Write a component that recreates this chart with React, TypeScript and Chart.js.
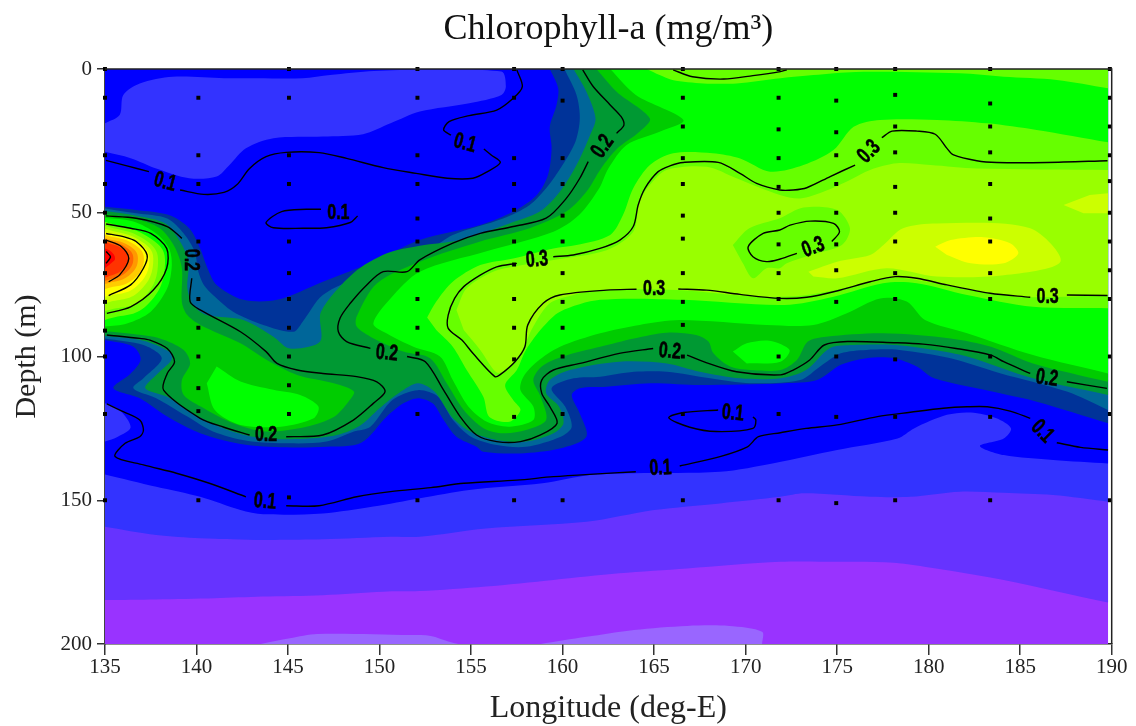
import React, { useEffect, useRef } from "react";
import { Chart } from "chart.js/auto";

type P = number[][];

const chartTitle = "Chlorophyll-a (mg/m\u00B3)";
const xTitle = "Longitude (deg-E)";
const yTitle = "Depth (m)";

// --- filled contour bands (longitude, depth) ---
const baseBand: P = [[135,0],[189.8,0],[189.8,200],[135,200]];
const paleA: P = [[143.5,200],[145.1,198],[146.6,196.5],[151.7,196.9],[152.8,197.2],[153.8,199.2],[154.3,200]];
const paleB: P = [[158.8,200],[161.3,197.5],[163.9,195.1],[166.8,193.7],[169.1,193.7],[170.9,195.7],[170.9,200]];
const violetEdge: P = [[135,184.7],[137.8,184.5],[141,184.1],[143.6,183.5],[146.9,183],[150.2,181.8],[152.2,181.6],[155.8,180],[159.5,177.7],[163.1,175.4],[166.8,173.7],[171.9,171.4],[175,171.4],[178.1,171.7],[180.4,173.7],[184.1,177.7],[189.8,185.6]];
const indigoEdge: P = [[135,159.2],[137.8,162.1],[140.2,163.2],[143.65,163.8],[146.9,163.6],[150.6,162.7],[152.2,162.7],[155.8,159.8],[161.3,157.5],[165,153.4],[168.6,151.1],[171.9,148.8],[173.2,147.6],[176.8,148.8],[179,148.8],[181.7,147],[184.1,147.4],[186.8,148.2],[189.8,150.5]];
const blueEdge: P = [[135,141],[137.8,145.3],[140.2,148.8],[142.4,153.4],[143.65,154.9],[146.9,154.6],[149.66,152.2],[152.2,149.3],[154.9,146.4],[158.9,144.1],[161.5,141.2],[163.9,140.6],[168.6,140.1],[171.6,137],[175,132.5],[178.3,128.5],[179.2,125],[181,120.3],[182.3,119.5],[183.7,121.5],[184.5,125],[184.1,128.5],[182.8,131.1],[184.1,134.3],[186.8,136],[189.8,137.2]];
const indigoTop: P = [[135,18.9],[135.8,16],[136,9],[136.9,5],[138.7,2.7],[141.5,3.2],[143.3,3.2],[145.8,3.2],[147.3,2.1],[149.7,0.7],[152.8,0.3],[156.66,0.9],[156.9,6.1],[156.66,9],[154.9,11.9],[152.2,14.8],[150.6,18.9],[149.1,22.7],[146.9,23.5],[144.2,24.1],[142.7,27.6],[141.8,33.4],[141.1,37.4],[139.6,38],[137.8,34.6],[136.4,31],[135,28.8]];
const indigoLeft: P = [[135,116.3],[135.8,118.6],[136.4,124.6],[135.7,127.9],[135,129.6]];

const navyHole: P = [[135,47.9],[136.7,49],[138.5,50.8],[139.6,55.4],[140.2,62.4],[140.6,69.3],[141.1,75.1],[142.56,80.3],[144.4,80.3],[146.9,74],[149.66,67],[152.2,59.5],[155.5,54.3],[157.3,49.6],[158.6,43.8],[159.2,36.9],[159.4,27.6],[159.3,20.1],[159.67,12.5],[159.76,6.7],[159.3,0]];
const navyLower: P = [[135,94.3],[136.55,96.6],[136.95,101],[136.4,105.9],[135.46,111],[136.9,114.5],[138.4,120.9],[140.2,126.7],[142.4,130.4],[144.9,131.6],[147.1,131.4],[149,130],[150.4,120.9],[151.3,116.3],[152.1,114.5],[152.9,116.3],[153.5,122.1],[154.2,127.9],[155.3,131.4],[155.66,133.1],[157.66,133.7],[159.85,132],[161.3,127.9],[160.94,119.8],[160.5,113.4],[160.94,111],[162.4,110.5],[164.8,109.3],[167.5,109.9],[172.1,109.3],[173.9,108.2],[175.2,102.9],[176.6,100.6],[178.1,100.6],[179.35,103.5],[180.3,107.6],[183.9,112.8],[185.9,115.7],[189.8,123.2]];
const tealHole: P = [[135,48.5],[136.7,50.2],[138.4,52],[139.3,57.2],[139.9,63.5],[140.1,70.5],[140.4,75.1],[140.9,78.6],[142,84.4],[143.65,89],[145.3,91.4],[145.8,87.9],[146.9,78.6],[149.1,71.7],[152.8,62.4],[154,57.7],[156.75,52],[158.2,47.3],[159.1,41.5],[160,33.4],[160.7,25.3],[160.94,17.2],[160.76,9],[160.1,0]];
const tealLower: P = [[135,93.7],[137.1,96],[138.1,100.6],[137.1,107.6],[136.55,111],[137.8,114.5],[139.5,120.9],[140.9,126.1],[142.75,129.3],[145.1,130.2],[147.1,129.6],[148.6,126.1],[149.5,124.4],[150.7,115.1],[152.1,111.7],[153.2,114],[154,122],[155,127.9],[156.4,130.8],[158,131.4],[159.9,127.9],[160.5,124.4],[160.14,117.4],[159.4,111],[160.6,107.6],[162.05,107],[163.9,105.3],[165.7,105.3],[168.06,107.6],[170.25,109.3],[172.98,108.2],[174.07,103.5],[175.2,98.9],[176.6,97.7],[178.4,97.7],[181.2,100.6],[183.9,105.8],[187.55,112.2],[189.8,118.6]];
const greenHole: P = [[135,49.4],[136.7,51],[138.3,53.7],[139.1,60],[139.56,67],[139.5,76.3],[139.8,82],[140.56,85.6],[142.56,87.3],[144.2,93.1],[145.1,97.2],[146.75,94.8],[146.8,84.4],[148.57,71],[150.4,64.1],[152.2,61.5],[154.4,59.5],[157.1,53.7],[158.76,49.6],[159.85,42.7],[160.76,33.4],[161.5,23],[161.8,17.2],[161.3,7.9],[160.6,0]];
const greenLower: P = [[135,92.9],[137.1,94.5],[138.5,98.3],[138.65,101],[137.8,106.4],[137.2,111],[138.4,114],[139.8,119.8],[141.5,125],[143.1,127.9],[145.1,128.8],[147.5,127.6],[148.9,124.2],[150,118],[151.1,112.5],[152.1,109.3],[153,112.2],[153.95,121],[154.95,126.1],[156.4,129],[158,129.6],[159.5,126.7],[160.05,123.2],[159.8,117.4],[159.1,112.8],[159.3,108.2],[160.4,104.7],[163.1,101.8],[165.7,102.4],[167.5,105.3],[169.7,107.6],[171.9,107.6],[173.3,104.7],[174.6,97.1],[175.9,96],[178.1,96],[180.3,97.7],[182.1,100],[185.7,107.6],[189.8,113.4]];
const midMainHole: P = [[161.85,0],[162.95,7.9],[164.77,17.2],[164.2,21.8],[163,27.6],[162.1,34.6],[161.3,42.7],[160.2,49.6],[158.2,55.4],[155.5,60],[152.2,67],[149.85,74.6],[148.75,86.1]];
const midMainLower: P = [[148.75,89.6],[149.5,93.1],[151.3,98.3],[152.76,100.6],[153.67,109.3],[154.6,118.6],[155.7,125],[156.77,126.7],[158,125.6],[159.1,122.1],[158.8,114],[158.4,108.2],[158.86,103.5],[160,100],[162.05,96.6],[163.9,93.7],[165.7,91.7],[167.3,92.5],[167.97,94.8],[168.24,98.9],[169.15,103.5],[170.25,104.7],[171.9,104.7],[172.8,101.2],[173.4,94.8],[174.4,93.1],[177.5,91.9],[181.2,93.7],[183.4,96.6],[185.7,102.4],[189.8,108.8]];
const midLeft: P = [[135,50.4],[136.6,52],[138,55.4],[138.8,61.8],[139.2,69.3],[139.2,81],[139.5,85.6],[140.2,89],[142.4,95.4],[143.84,101.2],[145.5,106.4],[147.5,109.3],[148.6,112.2],[148.3,115.7],[147.5,121],[146,124.4],[143.8,126.1],[142,123.2],[140.4,118],[139.3,113.4],[139.2,108.2],[139.65,102.4],[139.3,97.7],[138,93.7],[136.55,92.2],[135,91.1]];
const brightHole: P = [[162.6,0],[164,9],[166.6,17.7],[165.3,21.8],[163.5,26.4],[162.5,34.6],[162,41.5],[160.9,50.8],[159.5,56.6],[155.8,63.5],[152.2,70.5],[150.6,79.8],[149.66,88.5]];
const brightLower: P = [[150.4,92],[151.85,96.6],[153.3,100],[154,108.2],[154.85,117.4],[155.86,122.7],[157.1,124.4],[158.4,122.1],[158.4,117.4],[157.7,111.7],[157.86,107],[158.6,101.8],[159.86,96.6],[162.05,91.9],[164.2,89],[166.4,87.3],[171.16,89],[173.7,89],[175.5,85],[177.35,79.8],[178.8,80.9],[179.8,87.3],[182.1,91.9],[185.7,99.5],[189.8,105.9]];
const brightPatch: P = [[169.3,98.3],[170.06,95.4],[171.3,94.5],[172.4,97.7],[171.9,101.8],[170.06,102.4]];
const brightLowerLeft: P = [[141.1,103.5],[142.4,108.7],[144.2,111.6],[145.66,113.4],[146.66,117.4],[146.4,121.5],[144.6,124.4],[142.4,123.8],[141,118.6],[140.56,109.3]];
const brightBlob: P = [[135,51.7],[136.55,53],[137.8,57.2],[138.5,62.4],[138.65,68.2],[138.4,76.3],[137.5,84.4],[136.2,88.5],[135,89.6]];
const limeTop: P = [[164.6,0],[165.3,2.1],[166,3.8],[167.7,5],[169.5,5],[171.9,3.2],[173.7,2.1],[176,1],[181.7,1.5],[184.1,2.7],[187,3.8],[189.8,6.7],[189.8,0]];
const limeMain: P = [[152.6,86.4],[153.1,80.9],[154,74],[155.5,68.2],[157.3,65.9],[159.5,62.4],[160.76,61.2],[162.6,57.7],[163.3,50.8],[163.86,41.5],[164.77,33.4],[166.04,29.3],[168.2,29.3],[169.7,31.1],[171.34,35.7],[173.16,33.4],[174.8,28.2],[175.9,20.1],[177.35,17.7],[180.45,17.7],[183.2,18.9],[185.9,21.2],[189.8,25.5],[189.8,83.2],[185.7,82.7],[182.1,78.6],[179.35,74.5],[177.5,74.5],[174.8,79.2],[172.1,82.1],[166.6,80.3],[162.05,80.3],[159.86,84.4],[158.95,89.6],[158,97.7],[157.5,104.7],[156.86,109.9],[157.3,115.1],[157.7,118.6],[157.1,122.7],[156,121],[155.67,114],[154.76,104.7],[154,96.6],[153.1,90.8]];
const chartreuseMain: P = [[154.2,83.8],[154.76,76.3],[156.2,70.5],[157.5,68.5],[159.5,66.4],[162.4,63],[163.86,56.6],[164.2,46.1],[164.77,40.3],[165.68,35.1],[167.87,34],[169.5,38],[171.87,43.8],[173,45],[174.25,42.7],[175.7,38.6],[176.8,35.1],[178.26,32.8],[180.1,33.4],[182.63,34.6],[189.8,35.1],[189.8,78.6],[185.7,79.4],[183.36,78],[179.9,74],[178.1,72.5],[176.6,74.5],[173.35,78.6],[170.6,79.2],[166.24,76.9],[162.05,76.9],[160.6,78.6],[159.3,81.5],[158.4,89.6],[157.7,98.9],[156.86,104.7],[156.4,105.6],[155.5,97.7],[154.6,90.8]];
const limePatch: P = [[169.3,61.2],[170.2,55.4],[171.87,51.9],[173.16,48.2],[175,49],[175.7,55.4],[175.26,61.2],[173.53,64.7],[172.25,67.6],[171.87,69.3],[171.14,69.3],[170.4,72.8],[169.8,67]];
const citronMain: P = [[173.43,70.5],[175,67],[176.8,64.7],[177.53,61.2],[178.6,55.4],[180.45,53.7],[185.55,55.4],[187.2,67],[184.1,71.7],[180.45,72.2],[177.7,69.3],[175,72.8],[173.7,72.2]];
const citronRight: P = [[187.37,47.3],[188.8,43.8],[189.8,43.2],[189.8,50.2],[188.46,50.2]];
const yellowPatch: P = [[180.36,61.8],[181.2,59.5],[183,58.5],[184.45,60.6],[184.9,64.1],[184.1,67.6],[182.3,67.6],[181,64.7]];

// --- the warm core at the left edge ---
const ringLime: P = [[135,53.1],[137.3,58.2],[138.28,66.4],[137.3,82.1],[135,87.3]];
const ringChartreuse: P = [[135,54.5],[137.06,58.9],[137.9,66.4],[137.06,79.8],[135,84.2]];
const ringCitron: P = [[135,55.6],[136.86,59.5],[137.64,65.9],[136.86,77.4],[135,81.5]];
const ringYellow: P = [[135,56.6],[136.7,60],[137.43,65.9],[136.7,75.7],[135,79.2]];
const ringAmber: P = [[135,57.7],[136.5,60.6],[137.13,65.9],[136.5,73.4],[135,76.5]];
const ringOrange: P = [[135,58.9],[136.3,61.4],[136.8,65.9],[136.3,71.9],[135,74.8]];
const ringDeep: P = [[135,59.5],[136.1,61.8],[136.55,65.9],[136.1,71],[135,73.7]];
const ringScarlet: P = [[135,60.3],[135.93,62.4],[136.3,65.6],[135.93,69.9],[135,72.6]];
const ringRed: P = [[135,62.4],[135.33,63.5],[135.55,65.9],[135.33,67.6],[135,69.3]];

// --- contour lines ---
const c01a: P = [[135.05,31.8],[136.2,33.7],[137.4,35.7]];
const c01b: P = [[139.1,42.1],[140.4,43.6],[141.5,42.9],[142.2,40.3],[142.9,34.6],[143.8,30.5],[144.9,29],[146.7,29.1],[148.2,31.1],[150.2,34.3],[152,36.3],[153.7,38],[155.1,38],[155.9,35.7],[156.6,32.5],[156.1,29.9],[155.7,27.8]];
const c01c: P = [[153.9,23],[153.5,21.2],[153.8,18.3],[154.9,16.2],[156.4,14.3],[157.3,10.2],[157.8,6.1],[157.5,0.3]];
const c01d: P = [[146.8,48.8],[146,48.8],[144.65,49.6],[143.8,53.4],[144.2,55.2],[145.8,55.4],[147.1,55.2],[148.4,53.4],[148.8,51.1]];
const c01e: P = [[135.1,116.5],[136,119.2],[136.9,122.1],[137.1,125.6],[136.9,127.9],[136.1,130.2],[135.55,134.8],[137.1,137.7],[138.9,140.6],[140.7,144.1],[142.7,148.8]];
const c01f: P = [[144.9,151.9],[146.7,151.9],[148.75,148.8],[150.6,147],[152.8,145.6],[154.6,144.1],[157.5,143],[159.5,141.8],[161.7,140.9],[164,140.1]];
const c01g: P = [[166.4,138.1],[168.6,134.8],[170.1,131.4],[170.7,127.9],[171.9,126.5],[173.3,125],[175,123.8],[177.2,120.9],[179,119.4],[180.8,118],[182.1,117.5],[183.2,117.5],[184.45,119],[185.55,121.5]];
const c01h: P = [[187,130],[188.3,131.6],[189.8,132.5]];
const c01i: P = [[168.5,118.6],[166.6,119.5],[165.8,121.3],[166.95,124.6],[168.4,126.1],[170.4,125],[170.56,122.1],[170.4,121]];
const c02a: P = [[161.1,0.3],[161.67,6.1],[162.6,12.5],[163.2,16.6],[163.35,19.5],[162.95,22.4]];
const c02b: P = [[161.4,32.2],[160.94,38],[160.2,45],[159.1,51.9],[157.3,54.8],[155.5,57.2],[154,60.6],[152.2,66.4],[151.5,70.5],[150.2,70.5],[149.3,75.1],[148.4,81.5],[147.84,86.7],[147.75,91.4],[148.2,94.8],[149.5,97.2]];
const c02c: P = [[151.5,100],[152.5,101.8],[153.5,111.7],[154.4,120.9],[155.3,127.3],[156.4,129.6],[157.7,129.6],[158.8,127.3],[159.7,123.2],[159.3,117.4],[158.86,112.8],[158.86,108.2],[159.5,104.7],[160.96,102.4],[163.1,98.9],[164.95,97.2]];
const c02d: P = [[166.8,99.5],[167.7,101.8],[169.5,105.3],[171.9,106.4],[172.6,104.7],[173.5,101.2],[174.3,96],[175.6,94.8],[178.1,95.2],[179.7,95.7],[181.5,97.2],[183.4,99.5],[184.1,101.8],[185.55,105.9]];
const c02e: P = [[187.55,108.8],[189.74,111.1]];
const c02f: P = [[135.05,51.1],[136.7,51.9],[138.4,54.8],[139.2,58.9]];
const c02g: P = [[139.74,72.8],[139.65,80.9],[140.2,83.8],[142.4,91.4],[143.8,98.3],[144.4,102.4],[145.5,104.7],[146.9,105.9],[148.75,107],[149.85,108.8],[150.3,112.2],[149.66,116.3],[148.57,122.1],[146.9,127.3],[144.9,127.9]];
const c02h: P = [[142.9,127.3],[141.5,124.6],[140.2,121.5],[138.2,111.7],[138.4,105.9],[138.8,101.8],[138.4,97.2],[137.46,94.3],[136.9,93.7],[135.1,92.5]];
const c03a: P = [[166.04,0.3],[167.1,2.7],[168.8,3.5],[170.4,2.3],[171.9,0.9],[172.25,0.3]];
const c03b: P = [[177.44,23.9],[178,21.6],[179.35,21.6],[180.36,22.7],[181,27.6],[181.36,29.9],[182.63,31.9],[183.73,32.5],[186.46,32.5],[189.77,31.9]];
const c03c: P = [[159.49,65.3],[160.58,64.7],[162.04,62.4],[163.13,59.5],[163.86,54.8],[164.13,47.3],[164.5,41.5],[165.22,35.7],[165.86,33.7],[166.59,32.5],[168.5,32.5],[169.69,36.3],[170.6,39.8],[171.87,42.1],[172.6,42.1],[173.34,41.3],[174.62,37.4],[175.98,33.4]];
const c03d: P = [[157.5,67.6],[156.4,68.8],[155.5,71.7],[154.6,75.7],[154.1,79.8],[153.75,85.6],[153.75,90.2],[154.5,94.3],[155.1,98.9],[156.3,107],[156.57,106.4],[157.4,101.8],[157.94,96.6],[158.1,89],[158.94,81.5],[159.85,78.6],[162.4,76.9],[164.04,76.6]];
const c03e: P = [[166.32,76.5],[167.87,76.9],[169.69,78.4],[171.87,79.8],[173.34,79.4],[174.98,77.2],[176.8,74],[178.17,72.2],[179.35,72.8],[181,75.1],[183.36,78],[185.55,79.4]];
const c03f: P = [[187.55,78.6],[189.77,78.8]];
const c03g: P = [[172.8,64.1],[171.89,66.1],[171.14,67],[170.4,65.3],[170.14,61.8],[170.96,57.2],[171.87,56],[172.43,54.3],[173.53,52.9],[174.8,53.7],[175.13,56.6],[174.71,60]];
const coreA: P = [[135.1,85],[136.4,82.7],[137.64,76.9],[138.37,69.3],[138.37,62.4],[137.5,57.2],[136.4,55.4],[135.06,53.9]];
const coreB: P = [[135.2,78.8],[136.4,75.1],[137.1,69.3],[137.3,64.7],[136.7,60],[136,58.3],[135.06,57.2]];
const coreC: P = [[135.2,74],[135.8,71.6],[136.3,65.9],[135.9,61.8],[135.06,59.5]];
const coreD: P = [[135.06,63.5],[135.3,65.3],[135.06,67.6]];

// --- contour labels: text, longitude, depth, angle ---
const labelTexts = ["0.1","0.1","0.1","0.2","0.2","0.2","0.2","0.1","0.3","0.3","0.2","0.1","0.1","0.3","0.3","0.3","0.2","0.1"];
const labelLons = [138.28,147.75,154.66,162.2,139.7,150.4,143.8,143.74,158.6,165,165.86,169.3,165.35,176.75,173.7,186.5,186.46,186.2];
const labelDepths = [39.4,50.2,25.9,27,66.4,98.9,127.3,150.5,66.4,76.3,98.3,119.8,138.9,28.8,62.1,79.2,107.6,126.1];
const labelAngles = [15,0,15,-55,90,5,0,5,-5,0,5,5,-3,-45,-20,0,8,45];

// --- sampling stations ---
const stationLons = [135,140.1,145.05,152.07,157.35,160,166.57,171.8,174.95,178.17,183.36,189.9];
const stationDepths: number[][] = [
  [0,10,30,40,50,60,71,81,91,100,120,150],
  [10,30,40,60,80,90,100,111,119,150],
  [0,10,30,40,60,71,80,90,100,110,120,149],
  [0,10,30,40,52,60,70,80,90,99,120,150],
  [0,10,31,40,49,60,68,80,90,101,121,150],
  [0,11,31,40,51,60,71,81,90,100,120,150],
  [0,10,20,31,40,51,59,71,81,89,100,120,150],
  [0,10,21,31,41,50,61,71,80,100,120,150],
  [0,11,22,30,40,50,61,70,81,100,121,151],
  [0,9,20,29,41,50,60,71,80,101,121,150],
  [0,12,20,29,40,52,60,71,80,100,121,150],
  [0,10,20,30,39,50,60,70,80,100,120,150],
];

const NAVY = [...navyHole, [189.8, 0], ...[...navyLower].reverse()];
const TEAL = [...tealHole, [189.8, 0], ...[...tealLower].reverse()];
const GREEN = [...greenHole, [189.8, 0], ...[...greenLower].reverse()];
const MID = [...midMainHole, ...midMainLower, [189.8, 0]];
const BRIGHT = [...brightHole, ...brightLower, [189.8, 0]];
const above = (edge: P) => [[135, 0], [189.8, 0], ...[...edge].reverse()];

const SMOOTH = 0.3;
const bands: [P, string, number][] = [
  [baseBand, "#9933FF", 0],
  [paleA, "#9966FF", SMOOTH],
  [paleB, "#9966FF", SMOOTH],
  [above(violetEdge), "#6633FF", SMOOTH],
  [above(indigoEdge), "#3333FF", SMOOTH],
  [above(blueEdge), "#0000FF", SMOOTH],
  [indigoTop, "#3333FF", SMOOTH],
  [indigoLeft, "#3333FF", SMOOTH],
  [NAVY, "#003399", SMOOTH],
  [TEAL, "#006699", SMOOTH],
  [GREEN, "#009933", SMOOTH],
  [MID, "#00CC00", SMOOTH],
  [midLeft, "#00CC00", SMOOTH],
  [BRIGHT, "#00FF00", SMOOTH],
  [brightPatch, "#00FF00", SMOOTH],
  [brightLowerLeft, "#00FF00", SMOOTH],
  [brightBlob, "#00FF00", SMOOTH],
  [limeTop, "#66FF00", SMOOTH],
  [limeMain, "#66FF00", SMOOTH],
  [chartreuseMain, "#99FF00", SMOOTH],
  [limePatch, "#66FF00", SMOOTH],
  [citronMain, "#CCFF00", SMOOTH],
  [citronRight, "#CCFF00", 0],
  [yellowPatch, "#FFFF00", SMOOTH],
  [ringLime, "#66FF00", 0.45],
  [ringChartreuse, "#99FF00", 0.45],
  [ringCitron, "#CCFF00", 0.45],
  [ringYellow, "#FFFF00", 0.45],
  [ringAmber, "#FFCC00", 0.45],
  [ringOrange, "#FF9900", 0.45],
  [ringDeep, "#FF6600", 0.45],
  [ringScarlet, "#FF3300", 0.45],
  [ringRed, "#FF0000", 0.45],
];

const contours: P[] = [c01a,c01b,c01c,c01d,c01e,c01f,c01g,c01h,c01i,c02a,c02b,c02c,c02d,c02e,c02f,c02g,c02h,c03a,c03b,c03c,c03d,c03e,c03f,c03g,coreA,coreB,coreC,coreD];

const toXY = (p: P) => p.map(([x, y]) => ({ x, y }));
// points on the plot's edge are repeated so the curve keeps a sharp corner there
const onEdge = ([x, y]: number[]) => x <= 135 || x >= 189.8 || y <= 0 || y >= 200;
const toBandXY = (p: P) => toXY(p.flatMap((pt) => (onEdge(pt) ? [pt, pt] : [pt])));

const frameAndLabels = {
  id: "frameAndLabels",
  afterDatasetsDraw(chart: any) {
    const { ctx, chartArea: a, scales } = chart;
    ctx.save();
    ctx.strokeStyle = "#222";
    ctx.lineWidth = 1.5;
    ctx.beginPath();
    ctx.moveTo(a.left, a.top);
    ctx.lineTo(a.right, a.top);
    ctx.lineTo(a.right, a.bottom);
    ctx.stroke();
    ctx.fillStyle = "#000";
    ctx.strokeStyle = "#000";
    ctx.lineWidth = 0.4;
    ctx.font = 'bold 16px "Liberation Sans"';
    ctx.textAlign = "center";
    ctx.textBaseline = "middle";
    labelTexts.forEach((t, i) => {
      ctx.save();
      ctx.translate(scales.x.getPixelForValue(labelLons[i]), scales.y.getPixelForValue(labelDepths[i]));
      ctx.rotate((labelAngles[i] * Math.PI) / 180);
      ctx.scale(1, 1.4);
      ctx.fillText(t, 0, 0);
      ctx.strokeText(t, 0, 0);
      ctx.restore();
    });
    ctx.restore();
  },
};

export default function App() {
  const ref = useRef<HTMLCanvasElement>(null);
  useEffect(() => {
    const datasets: any[] = [];
    bands.forEach(([poly, color, tension]) =>
      datasets.push({ data: toBandXY(poly), showLine: true, fill: "shape", backgroundColor: color, borderWidth: 0, pointRadius: 0, tension })
    );
    contours.forEach((line) =>
      datasets.push({ data: toXY(line), showLine: true, fill: false, borderColor: "#000", borderWidth: 1.4, pointRadius: 0, tension: 0.3 })
    );
    datasets.push({
      data: stationLons.flatMap((lon, i) => stationDepths[i].map((d) => ({ x: lon, y: d }))),
      showLine: false,
      pointStyle: "rect",
      pointRadius: 2.8,
      backgroundColor: "#000",
      borderWidth: 0,
      clip: false,
    });
    datasets.forEach((d, i) => (d.order = datasets.length - i));

    const chart = new Chart(ref.current!, {
      type: "scatter",
      data: { datasets },
      plugins: [frameAndLabels],
      options: {
        animation: false,
        responsive: false,
        events: [],
        layout: { padding: { left: 0, top: 0, right: 24.3, bottom: 0 } },
        plugins: {
          legend: { display: false },
          tooltip: { enabled: false },
          title: {
            display: true,
            text: chartTitle,
            fullSize: false,
            color: "#111",
            font: { family: "Liberation Serif", size: 36, weight: "normal", lineHeight: 1.2 },
            padding: { top: 8.4, bottom: 17.4 },
          },
        },
        scales: {
          x: {
            type: "linear",
            min: 135,
            max: 190,
            afterFit: (s: any) => { s.height = 82; },
            border: { color: "#222", width: 1.5 },
            grid: { drawOnChartArea: false, tickLength: 11, color: "#333", lineWidth: 1.5 },
            ticks: { stepSize: 5, maxRotation: 0, autoSkip: false, color: "#222", padding: 0, font: { family: "Liberation Serif", size: 21 } },
            title: { display: true, text: xTitle, color: "#222", font: { family: "Liberation Serif", size: 32, lineHeight: 1.1 }, padding: { top: 0, bottom: 0 } },
          },
          y: {
            type: "linear",
            min: 0,
            max: 200,
            reverse: true,
            afterFit: (s: any) => { s.width = 105; },
            border: { color: "#444", width: 2 },
            grid: { drawOnChartArea: false, tickLength: 8, color: "#333", lineWidth: 1.5 },
            ticks: { stepSize: 50, color: "#222", padding: 5, font: { family: "Liberation Serif", size: 21 } },
            title: { display: true, text: yTitle, color: "#222", font: { family: "Liberation Serif", size: 30, lineHeight: 1.2 }, padding: { top: 9, bottom: 0 } },
          },
        },
      } as any,
    });
    return () => chart.destroy();
  }, []);
  return (
    <div style={{ position: "fixed", left: 0, top: 0, width: 1136, height: 726, background: "#fff" }}>
      <canvas ref={ref} width={1136} height={726} style={{ display: "block" }} />
    </div>
  );
}
